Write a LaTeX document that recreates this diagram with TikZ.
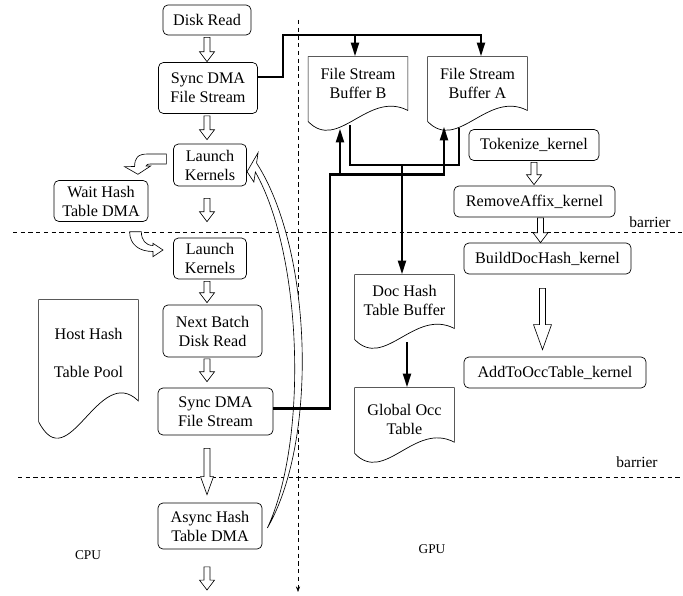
\documentclass[tikz,border=0pt]{standalone}
\usepackage{fontspec}
\setmainfont{Liberation Serif}
\usetikzlibrary{arrows.meta,positioning,calc}

% outline of a document-shaped buffer around a node
\newcommand{\docoutline}[1]{%
  \draw let \p1=(#1.north west), \p2=(#1.south east), \n1={\x2-\x1}, \n2={\y1-\y2} in
    (\x1,\y1) -- (\x2,\y1) -- (\x2,{\y2+0.27*\n2})
    .. controls ({\x1+0.6*\n1},{\y2+0.55*\n2}) and ({\x1+0.3*\n1},{\y2-0.3*\n2}) ..
    (\x1,{\y2+0.12*\n2}) -- cycle;}
% hollow block arrow pointing down: from, to, half shaft, half head, head length
\newcommand{\blockdown}[5]{%
  \draw[hollow] let \p1=#1, \p2=#2 in
    (\x1-#3,\y1) -- (\x1-#3,\y2+#5) -- (\x1-#4,\y2+#5) -- (\x1,\y2)
    -- (\x1+#4,\y2+#5) -- (\x1+#3,\y2+#5) -- (\x1+#3,\y1) -- cycle;}

\begin{document}
\begin{tikzpicture}[
  x=0.025cm, y=-0.025cm, line width=0.5pt,
  proc/.style={
    draw, rounded corners=3.5pt, align=center, inner sep=1pt,
    font=\fontsize{11.5}{13.5}\selectfont
  },
  docbuf/.style={
    align=center, inner sep=0pt, minimum width=2.475cm, minimum height=1.825cm,
    text depth=0.5cm, font=\fontsize{11.5}{13.5}\selectfont
  },
  bus/.style={line width=2pt},
  busarrow/.style={bus, -{Triangle[length=10pt, width=5.5pt]}},
  hollow/.style={draw, fill=white, line width=0.45pt, line join=miter},
  sep/.style={line width=0.4pt, dash pattern=on 3pt off 2.5pt},
  side/.style={font=\fontsize{9.5}{11}\selectfont},
  barlbl/.style={font=\fontsize{11}{13}\selectfont}
]
\useasboundingbox (0,0) rectangle (683,596);

% CPU column
\node[proc, minimum width=2.2cm, minimum height=0.75cm] (dread) at (207,20) {Disk Read};
\node[proc, minimum width=2.475cm, minimum height=1.275cm] (syncA) at (208,88) {Sync DMA\\File Stream};
\node[proc, minimum width=1.825cm, minimum height=1.05cm] (launchA) at (210,165) {Launch\\Kernels};
\node[proc, minimum width=2.35cm, minimum height=1.025cm] (waitH) at (101,201) {Wait Hash\\Table DMA};
\node[proc, minimum width=1.825cm, minimum height=1.025cm] (launchB) at (210,258.5) {Launch\\Kernels};
\node[proc, minimum width=2.475cm, minimum height=1.3cm] (nextB) at (212.5,331) {Next Batch\\Disk Read};
\node[proc, minimum width=2.875cm, minimum height=1.175cm] (syncB) at (215.5,411.5) {Sync DMA\\File Stream};
\node[proc, minimum width=2.6cm, minimum height=1.15cm] (asyncH) at (210,526) {Async Hash\\Table DMA};
\node[docbuf, minimum height=3.45cm, text depth=0.8cm] (hostP) at (88.5,369) {Host Hash\\[14pt]Table Pool};

% GPU side
\node[docbuf] (bufB) at (358,93.5) {File Stream\\Buffer B};
\node[docbuf] (bufA) at (477.5,93.5) {File Stream\\Buffer A};
\node[docbuf, text depth=0.55cm] (docH) at (404.5,311.5) {Doc Hash\\Table Buffer};
\node[docbuf, minimum height=1.85cm, text depth=0.3cm] (glob) at (404.5,425) {Global Occ\\Table};
\node[proc, minimum width=3.25cm, minimum height=0.775cm] (tok) at (534,145) {Tokenize\_kernel};
\node[proc, minimum width=4.025cm, minimum height=0.775cm] (remAff) at (534.5,201.5) {RemoveAffix\_kernel};
\node[proc, minimum width=4.175cm, minimum height=0.775cm] (buildDH) at (547.5,258.5) {BuildDocHash\_kernel};
\node[proc, minimum width=4.55cm, minimum height=0.775cm] (addOcc) at (555,372.5) {AddToOccTable\_kernel};

\foreach \d in {hostP,bufB,bufA,docH,glob} {\docoutline{\d}}

\node[side] (cpu) at (88,555) {CPU};
\node[side] (gpu) at (432,549) {GPU};
\node[barlbl] (barA) at (650,222) {barrier};
\node[barlbl] (barB) at (637,462) {barrier};

% separators
\draw[sep] (13,232) -- (683,232);
\draw[sep] (18,477) -- (683,477);
\draw[sep, -{Stealth[length=4pt, width=3pt]}] (298,20) -- (298,592);

% hollow flow arrows
\coordinate (cpuEnd) at (207,590);
\blockdown{($(dread.south)+(0,2)$)}{($(syncA.north -| dread)+(0,-0.5)$)}{2.1pt}{5.3pt}{7pt}
\blockdown{($(syncA.south -| dread)+(0,2)$)}{($(launchA.north -| dread)+(0,-4)$)}{2.1pt}{5.3pt}{7pt}
\blockdown{($(launchA.south -| dread)+(0,12)$)}{($(launchB.north -| dread)+(0,-16)$)}{2.1pt}{5.3pt}{7pt}
\blockdown{($(launchB.south -| dread)+(0,2)$)}{($(nextB.north -| dread)+(0,-2)$)}{2.1pt}{5.3pt}{7pt}
\blockdown{($(nextB.south -| dread)+(0,1.5)$)}{($(syncB.north -| dread)+(0,-6)$)}{2.1pt}{5.3pt}{7pt}
\blockdown{($(syncB.south -| dread)+(0,13)$)}{($(asyncH.north -| dread)+(0,-8)$)}{2.1pt}{4.6pt}{12.8pt}
\blockdown{($(asyncH.south -| dread)+(0,17.5)$)}{(cpuEnd)}{2.1pt}{5.3pt}{7pt}
\blockdown{($(tok.south)+(0,1.5)$)}{($(remAff.north -| tok.south)+(0,-1)$)}{2.1pt}{5.3pt}{7pt}
\blockdown{($(remAff.south)+(6,0.5)$)}{($(buildDH.north)+(-7,0)$)}{2.1pt}{5.3pt}{7pt}
\blockdown{($(buildDH.south)+(-5,14)$)}{($(addOcc.north)+(-12.5,-7)$)}{2.1pt}{6.4pt}{17.8pt}

% curved hollow arrows
\begin{scope}[shift={(launchA.west)}]
  \draw[hollow] (-6.8,-11) -- (-25.5,-11) .. controls (-35.5,-11) and (-38.5,-7) .. (-38.5,1.5)
    -- (-48.5,1.7) -- (-35.2,9.3) -- (-22.5,1) -- (-27,1)
    .. controls (-27,-0.5) and (-25.5,-1) .. (-21.5,-1) -- (-6.8,-1) -- cycle;
\end{scope}
\begin{scope}[shift={(launchB.west)}]
  \draw[hollow] (-43.5,-26.8) .. controls (-43.5,-13.5) and (-33.5,-7) .. (-20.2,-7)
    -- (-20.2,-1.8) -- (-10.2,-8.5) -- (-20.2,-15.2) -- (-20.2,-13)
    .. controls (-27.5,-13) and (-31.8,-18.5) .. (-31.8,-26.8) -- cycle;
\end{scope}
\begin{scope}[shift={(launchA.east)}]
  \draw[hollow] (0.2,6.7) -- (11.2,-12.3) -- (9.7,-2)
    .. controls (65.5,85) and (71.5,275) .. (20.5,363)
    .. controls (61.5,275) and (55.5,90) .. (8.5,7) -- (7,17) -- cycle;
\end{scope}

% data buses
\coordinate (busT) at (283,35);
\coordinate (jDoc) at (402,165);
\coordinate (cornerL) at (330,174.5);
\coordinate (jLow) at (340,174.5);
\draw[busarrow] ($(syncA.east)+(0,-11)$) -| (busT) -| ($(bufA.north)+(3.5,0)$);
\draw[busarrow] ($(bufB.north |- busT)+(-3,0)$) -- ($(bufB.north)+(-3,0)$);
\draw[bus] ($(bufB.south)+(-8,-5)$) |- (jDoc) -| ($(bufA.south)+(-18.5,-2)$);
\draw[busarrow] (jDoc) -- (jDoc |- docH.north);
\draw[busarrow] ($(syncB.east)+(0,-3)$) -| (cornerL) -| ($(bufA.south)+(-33.5,-4)$);
\draw[busarrow] (jLow) -- ($(bufB.south)+(-18,-2)$);
\draw[busarrow] ($(docH.south)+(2.5,-6)$) -- ($(glob.north)+(2.5,0)$);

\end{tikzpicture}
\end{document}
